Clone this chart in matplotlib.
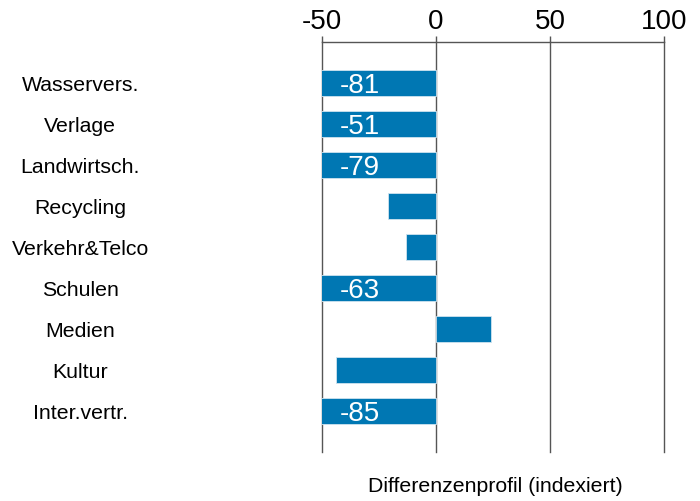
import matplotlib.pyplot as plt

plt.rcParams["font.family"] = ["Liberation Sans", "DejaVu Sans"]

categories = ["Wasservers.", "Verlage", "Landwirtsch.", "Recycling", "Verkehr&Telco",
              "Schulen", "Medien", "Kultur", "Inter.vertr."]
values = [-81, -51, -79, -21, -13, -63, 24, -44, -85]
xticks = [-50, 0, 50, 100]

color = "#0077b3"
xmin, xmax = -50, 100

fig = plt.figure(figsize=(7, 5.02), dpi=100)
ax = fig.add_axes([322 / 700, 1 - 453 / 502, (664 - 322) / 700, (453 - 43) / 502])

pos = list(range(len(categories)))
ax.barh(pos, values, height=0.63, color=color, edgecolor="#cfe3ef", linewidth=0.6, zorder=3)

# values beyond the axis get printed inside the bar
for p, v in zip(pos, values):
    if v < xmin:
        ax.annotate(str(v), xy=(xmin, p), xytext=(13, -1.5), textcoords="offset points",
                    ha="left", va="center", color="white", fontsize=20, zorder=4)

ax.set_xlim(xmin, xmax)
ax.set_ylim(len(categories), -1)
ax.set_xticks(xticks)
ax.set_xticklabels([str(t) for t in xticks], fontsize=20)
ax.xaxis.tick_top()
ax.tick_params(axis="x", length=4, width=1, color="#555555", pad=1.5)
for t in xticks:
    ax.axvline(t, color="#555555", linewidth=1, zorder=0, clip_on=False)

ax.set_yticks(pos)
ax.set_yticklabels(categories, fontsize=15.3)
ax.tick_params(axis="y", length=0, pad=174)
for lab in ax.get_yticklabels():
    lab.set_horizontalalignment("center")

for s in ["left", "right", "bottom"]:
    ax.spines[s].set_visible(False)
ax.spines["top"].set_color("#555555")
ax.spines["top"].set_linewidth(1)

fig.text(495 / 700, 1 - 487 / 502, "Differenzenprofil (indexiert)", ha="center", va="center",
         fontsize=15.3)

fig.savefig("out.png", dpi=100)
